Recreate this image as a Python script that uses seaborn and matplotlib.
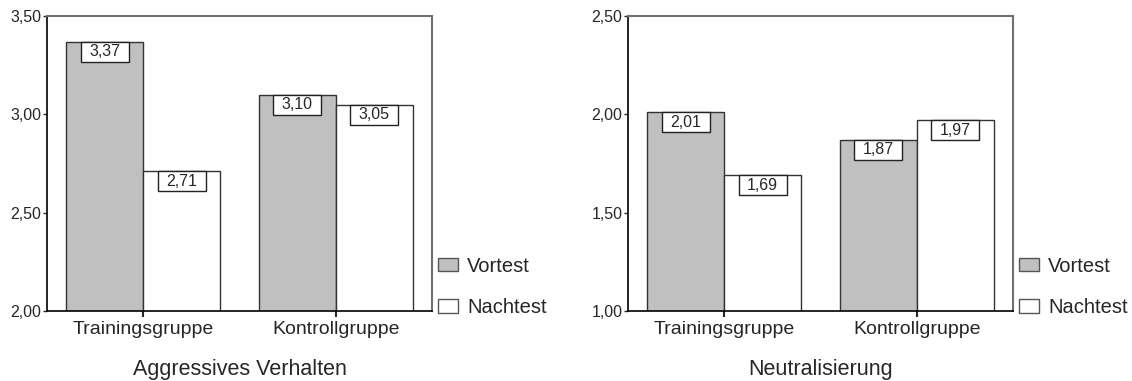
import matplotlib
matplotlib.use("Agg")
import matplotlib.pyplot as plt
from matplotlib.patches import Rectangle, Patch
from matplotlib.ticker import FuncFormatter
import pandas as pd
import seaborn as sns

# Werte aus der Abbildung
gruppen = ["Trainingsgruppe", "Kontrollgruppe"]
tests = ["Vortest", "Nachtest"]
aggr_vortest = [3.37, 3.10]
aggr_nachtest = [2.71, 3.05]
neutr_vortest = [2.01, 1.87]
neutr_nachtest = [1.69, 1.97]

titel = ["Aggressives Verhalten", "Neutralisierung"]
y_bereiche = [(2.0, 3.5), (1.0, 2.5)]
y_ticks = [[2.0, 2.5, 3.0, 3.5], [1.0, 1.5, 2.0, 2.5]]

sns.set_style("white")
plt.rcParams["font.family"] = ["Liberation Sans", "DejaVu Sans"]

farben = {"Vortest": "#c0c0c0", "Nachtest": "white"}


def make_df(vor, nach):
    rows = []
    for g, v in zip(gruppen, vor):
        rows.append({"Gruppe": g, "Test": "Vortest", "Wert": v})
    for g, v in zip(gruppen, nach):
        rows.append({"Gruppe": g, "Test": "Nachtest", "Wert": v})
    return pd.DataFrame(rows)


fig = plt.figure(figsize=(11.32, 3.81), dpi=100)
W, H = 1132, 381
ax1 = fig.add_axes([47 / W, 1 - 311 / H, 385 / W, 295 / H])
ax2 = fig.add_axes([628 / W, 1 - 311 / H, 385 / W, 295 / H])

datensaetze = [(aggr_vortest, aggr_nachtest), (neutr_vortest, neutr_nachtest)]

for i, (ax, (vor, nach)) in enumerate(zip([ax1, ax2], datensaetze)):
    df = make_df(vor, nach)
    sns.barplot(data=df, x="Gruppe", y="Wert", hue="Test", hue_order=tests,
                order=gruppen, palette=farben, edgecolor="#333333", linewidth=1,
                saturation=1, legend=False, ax=ax)
    ax.set_ylim(*y_bereiche[i])
    ax.set_xlim(-0.5, 1.5)
    ax.set_yticks(y_ticks[i])
    ax.yaxis.set_major_formatter(FuncFormatter(lambda v, p: f"{v:.2f}".replace(".", ",")))
    ax.set_ylabel("")
    ax.set_xlabel(titel[i], fontsize=15.5, labelpad=15)
    ax.tick_params(axis="y", left=True, length=3, width=1, pad=1, labelsize=11.5)
    ax.tick_params(axis="x", bottom=True, length=4, width=1.5, pad=3, labelsize=14)
    for s in ["left", "bottom"]:
        ax.spines[s].set_color("black")
        ax.spines[s].set_linewidth(1.2)
    for s in ["top", "right"]:
        ax.spines[s].set_color("#707070")
        ax.spines[s].set_linewidth(1.5)

    # Wertelabels in Kästchen am oberen Balkenrand
    box_h = (y_bereiche[i][1] - y_bereiche[i][0]) * 20 / 295
    for cont, werte in zip(ax.containers, [vor, nach]):
        for bar, v in zip(cont, werte):
            cx = bar.get_x() + bar.get_width() / 2
            top = bar.get_height() + bar.get_y()
            ax.add_patch(Rectangle((cx - 0.125, top - box_h), 0.25, box_h,
                                   facecolor="white", edgecolor="#222222",
                                   linewidth=1, zorder=5))
            ax.text(cx, top - box_h / 2, f"{v:.2f}".replace(".", ","),
                    ha="center", va="center", fontsize=11.5, zorder=6)

    handles = [Patch(facecolor=farben[t], edgecolor="#555555", linewidth=1) for t in tests]
    ax.legend(handles, tests, loc="lower left", bbox_to_anchor=(1.015, -0.02),
              frameon=False, fontsize=14.5, handlelength=1.0, handleheight=0.65,
              handletextpad=0.45, labelspacing=1.1, borderpad=0, borderaxespad=0)

fig.savefig("out.png", dpi=100)
